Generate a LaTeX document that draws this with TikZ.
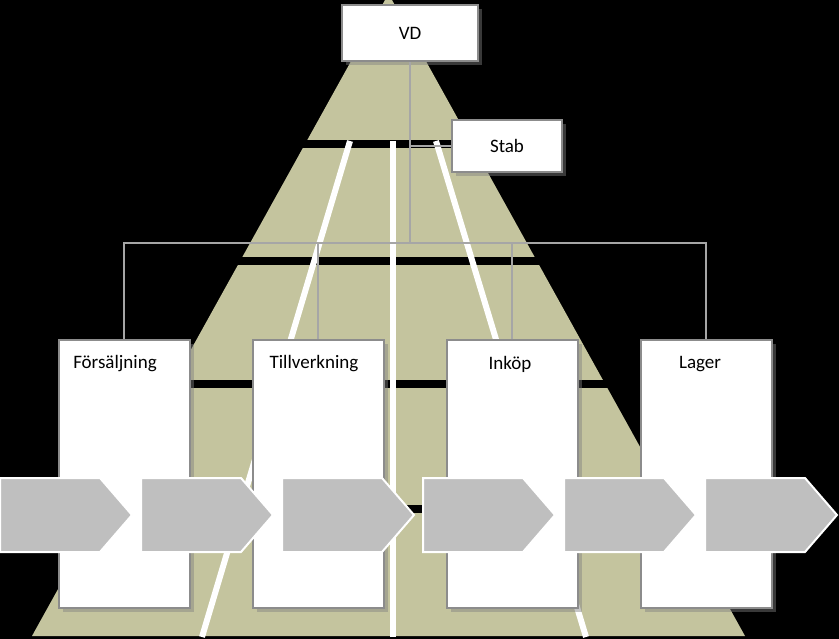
\documentclass[tikz,border=0pt]{standalone}
\usepackage{fontspec}
\setmainfont{Carlito}
\usetikzlibrary{positioning,shadows}

\definecolor{pyramidcol}{RGB}{196,196,158}
\definecolor{boxline}{RGB}{140,140,140}
\definecolor{connline}{RGB}{166,166,166}
\definecolor{chevfill}{RGB}{191,191,191}

\begin{document}
\begin{tikzpicture}[x=1pt, y=-1pt, font=\fontsize{19}{23}\selectfont,
    box/.style={draw=boxline, line width=2pt, fill=white,
        drop shadow={shadow xshift=4pt, shadow yshift=-4pt, opacity=0.45}},
    dept/.style={box, minimum width=131, minimum height=268},
    depttext/.style={inner sep=0pt},
    conn/.style={draw=connline, line width=1.5pt},
    whiteline/.style={white, line width=6pt},
    chevron/.style={fill=chevfill, draw=white, line width=2pt, line join=miter}]

        % Fundo
        \fill[black] (0,0) rectangle (839,639);
        \useasboundingbox (0,0) rectangle (839,639);

        % Pyramid and tiers
        \fill[pyramidcol] (385,0) -- (392,0) -- (745,636) -- (32,636) -- cycle;
        \foreach \y in {140,257,380,505}
            \fill[black] (0,\y) rectangle (839,\y+8);

        % White lines
        \draw[whiteline] (350,141) -- (202,637);
        \draw[whiteline] (393,141) -- (393,637);
        \draw[whiteline] (436,141) -- (586,637);

        % Boxes
        \node[box, minimum width=136, minimum height=56] (vd) at (410,33) {VD};
        \node[box, minimum width=110, minimum height=52] (stab) at (507,146) {Stab};
        \node[dept] (fors) at (124,474) {};
        \node[dept] (tillv) at (318,474) {};
        \node[dept] (inkop) at (512,474) {};
        \node[dept] (lager) at (706,474) {};

        \node[depttext] (forslbl) at ([xshift=-9pt, yshift=-25pt]fors.north) {Försäljning};
        \node[depttext] (tillvlbl) at ([xshift=-4pt, yshift=-25pt]tillv.north) {Tillverkning};
        \node[depttext] (inkoplbl) at ([xshift=-2pt, yshift=-25pt]inkop.north) {Inköp};
        \node[depttext] (lagerlbl) at ([xshift=-6pt, yshift=-25pt]lager.north) {Lager};

        % Connectors
        \coordinate (hub) at (410,243);
        \draw[conn] (vd.south) -- (hub);
        \draw[conn] (vd.south |- stab.west) -- (stab.west);
        \draw[conn] (fors.north) |- (hub) -| (lager.north);
        \draw[conn] (tillv.north) -- (tillv.north |- hub);
        \draw[conn] (inkop.north) -- (inkop.north |- hub);

        % Process arrows
        \foreach \i in {0,...,5}
            \draw[chevron] (\i*141,478) -- ++(100,0) -- ++(32,37) -- ++(-32,37) -- ++(-100,0) -- cycle;

    \end{tikzpicture}
\end{document}
